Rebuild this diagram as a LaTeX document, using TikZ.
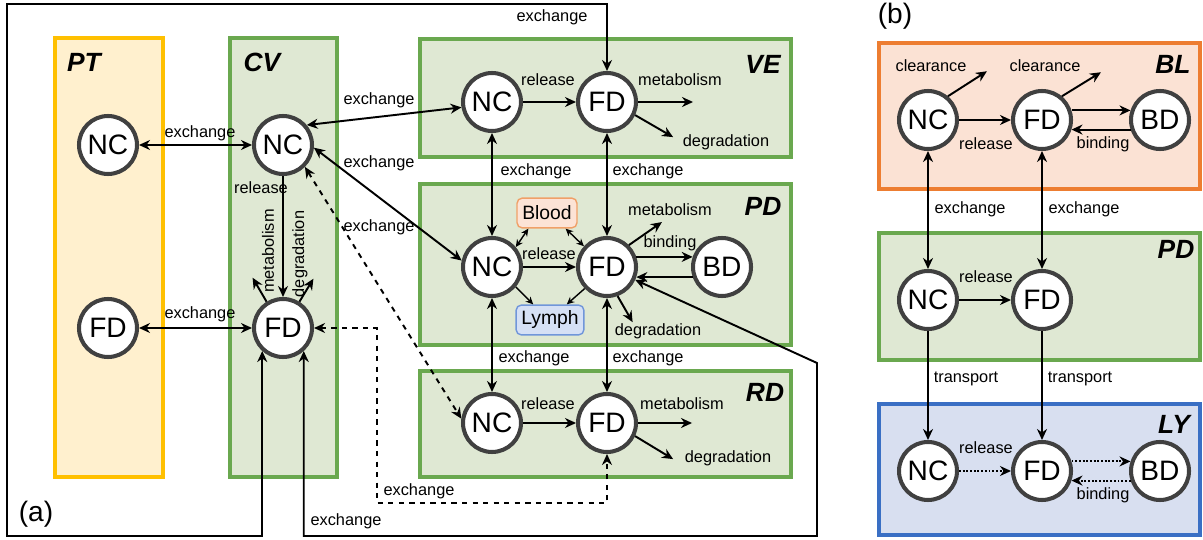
\documentclass[tikz,border=0pt]{standalone}
\usepackage{fontspec}
\setmainfont{Liberation Sans}
\usepackage{xcolor}
\definecolor{circleDark}{HTML}{404040}
\definecolor{ptFill}{HTML}{FFF0CE}
\definecolor{ptLine}{HTML}{FFC000}
\definecolor{tisFill}{HTML}{DFE8D3}
\definecolor{tisLine}{HTML}{6AA84F}
\definecolor{blFill}{HTML}{FBE2D4}
\definecolor{blLine}{HTML}{ED7D31}
\definecolor{lyFill}{HTML}{D8DFF0}
\definecolor{lyLine}{HTML}{3A6FC4}
\definecolor{bloodFill}{HTML}{FCE3D6}
\definecolor{bloodLine}{HTML}{F0A068}
\definecolor{lymphFill}{HTML}{D5E0F5}
\definecolor{lymphLine}{HTML}{7096DA}
\usetikzlibrary{positioning,arrows.meta}
\tikzset{%
  speciesNode/.style={%
    circle,
    draw=circleDark,
    line width=2.3pt,
    fill=white,
    minimum size=1.16cm,
    inner sep=0pt,
    font=\fontsize{16}{18}\selectfont
  },
  compBox/.style={%
    line width=2.4pt
  },
  compTitle/.style={%
    font=\fontsize{15}{17}\selectfont\bfseries\itshape
  },
  flowLabel/.style={%
    font=\fontsize{9.3}{11}\selectfont,
    inner sep=1pt
  },
  panelLabel/.style={%
    font=\fontsize{16}{18}\selectfont
  },
  fluidBox/.style={%
    rectangle,
    rounded corners=3pt,
    line width=0.8pt,
    minimum height=17pt,
    inner sep=3pt,
    font=\fontsize{11}{13}\selectfont
  },
  arrowLine/.style={%
    -{Stealth[length=2.2mm,width=2mm]},
    line width=1.1pt
  },
  arrowBoth/.style={%
    {Stealth[length=2.2mm,width=2mm]}-{Stealth[length=2.2mm,width=2mm]},
    line width=1.1pt
  },
  smallBoth/.style={%
    {Stealth[length=1.5mm,width=1.4mm]}-{Stealth[length=1.5mm,width=1.4mm]},
    line width=0.8pt
  },
  smallArrow/.style={%
    -{Stealth[length=1.5mm,width=1.4mm]},
    line width=0.8pt
  }
}

\begin{document}
\begin{tikzpicture}[x=0.02cm,y=-0.02cm]
  \useasboundingbox (0,0) rectangle (1203,540);

  % compartments of (a)
  \draw[compBox, draw=ptLine, fill=ptFill] (55,38) rectangle (163,477);
  \draw[compBox, draw=tisLine, fill=tisFill] (230,38) rectangle (337,477);
  \draw[compBox, draw=tisLine, fill=tisFill] (420,39) rectangle (791,157);
  \draw[compBox, draw=tisLine, fill=tisFill] (420,184) rectangle (791,345);
  \draw[compBox, draw=tisLine, fill=tisFill] (420,371) rectangle (791,477);

  % compartments of (b)
  \draw[compBox, draw=blLine, fill=blFill] (879,43) rectangle (1200,189);
  \draw[compBox, draw=tisLine, fill=tisFill] (879,233) rectangle (1200,360);
  \draw[compBox, draw=lyLine, fill=lyFill] (879,404) rectangle (1200,535);

  \node[compTitle] (ptTitle) at (84,62) {PT};
  \node[compTitle] (cvTitle) at (262,62) {CV};
  \node[compTitle] (veTitle) at (763,64) {VE};
  \node[compTitle] (pdTitle) at (763,206) {PD};
  \node[compTitle] (rdTitle) at (765,392) {RD};
  \node[compTitle] (blTitle) at (1173,64) {BL};
  \node[compTitle] (bpTitle) at (1176,249) {PD};
  \node[compTitle] (lyTitle) at (1174,424) {LY};

  \node[panelLabel] (panelA) at (36,514) {(a)};
  \node[panelLabel] (panelB) at (895,16) {(b)};

  % species of (a)
  \node[speciesNode] (ptNC) at (108,145) {NC};
  \node[speciesNode] (ptFD) at (108,328) {FD};
  \node[speciesNode] (cvNC) at (283,145) {NC};
  \node[speciesNode] (cvFD) at (283,328) {FD};
  \node[speciesNode] (veNC) at (492,102) {NC};
  \node[speciesNode] (veFD) at (607,102) {FD};
  \node[speciesNode] (pdNC) at (492,267) {NC};
  \node[speciesNode] (pdFD) at (607,267) {FD};
  \node[speciesNode] (pdBD) at (722,267) {BD};
  \node[speciesNode] (rdNC) at (492,423) {NC};
  \node[speciesNode] (rdFD) at (607,423) {FD};
  \node[fluidBox, draw=bloodLine, fill=bloodFill] (blood) at (547,213) {Blood};
  \node[fluidBox, draw=lymphLine, fill=lymphFill] (lymph) at (550,320) {Lymph};

  % species of (b)
  \node[speciesNode] (blNC) at (928,120) {NC};
  \node[speciesNode] (blFD) at (1042,120) {FD};
  \node[speciesNode] (blBD) at (1160,120) {BD};
  \node[speciesNode] (bpNC) at (928,300) {NC};
  \node[speciesNode] (bpFD) at (1042,300) {FD};
  \node[speciesNode] (lyNC) at (928,471) {NC};
  \node[speciesNode] (lyFD) at (1042,471) {FD};
  \node[speciesNode] (lyBD) at (1160,471) {BD};

  % exchanges with the central compartment
  \draw[arrowBoth] (ptNC) -- (cvNC);
  \draw[arrowBoth] (ptFD) -- (cvFD);
  \draw[arrowBoth] (cvNC.40) -- (veNC.190);
  \draw[arrowBoth] (cvNC.-5) -- (pdNC.168);
  \draw[arrowBoth, dashed] (cvNC.-45) -- (rdNC.172);
  \draw[arrowBoth] (cvFD.228) |- (7,536) -- (7,4) -| (veFD.north);
  \draw[arrowBoth] (cvFD.312) |- (817,536) -- (817,363) -- (pdFD);
  \draw[arrowBoth, dashed] (cvFD.east) -- (377,328) |- (607,503) -- (rdFD.south);

  \node[flowLabel] (exPtNc) at (200,133) {exchange};
  \node[flowLabel] (exPtFd) at (200,314) {exchange};
  \node[flowLabel] (exVeNc) at (379,100) {exchange};
  \node[flowLabel] (exPdNc) at (379,163) {exchange};
  \node[flowLabel] (exRdNc) at (379,227) {exchange};
  \node[flowLabel] (exVeFd) at (552,17) {exchange};
  \node[flowLabel] (exPdFd) at (346,521) {exchange};
  \node[flowLabel] (exRdFd) at (419,491) {exchange};

  % central compartment
  \draw[arrowLine] (cvNC) -- (cvFD);
  \draw[arrowLine] (cvFD.122) -- ++(-14,-24);
  \draw[arrowLine] (cvFD.58) -- ++(14,-23);
  \node[flowLabel] (cvRelease) at (261,188) {release};
  \node[flowLabel, rotate=90] (cvMetab) at (268,251) {metabolism};
  \node[flowLabel, rotate=90] (cvDegrad) at (300,254) {degradation};

  % VE
  \draw[arrowLine] (veNC) -- (veFD);
  \draw[arrowLine] (veFD.east) -- ++(55,0);
  \draw[arrowLine] (veFD.-25) -- ++(38,22);
  \node[flowLabel] (veRelease) at (548,80) {release};
  \node[flowLabel] (veMetab) at (680,80) {metabolism};
  \node[flowLabel] (veDegrad) at (726,142) {degradation};

  \draw[arrowBoth] (veNC) -- (pdNC);
  \draw[arrowBoth] (veFD) -- (pdFD);
  \node[flowLabel] (exVePdNc) at (536,171) {exchange};
  \node[flowLabel] (exVePdFd) at (648,171) {exchange};

  % PD
  \draw[arrowLine] (pdNC) -- (pdFD);
  \draw[arrowLine] (pdFD.19) -- (pdBD.161);
  \draw[arrowLine] (pdBD.199) -- (pdFD.-19);
  \draw[arrowLine] (pdFD.45) -- ++(33,-23);
  \draw[arrowLine] (pdFD.-70) -- ++(15,26);
  \draw[smallBoth] (pdNC.40) -- (blood.-140);
  \draw[smallBoth] (pdFD.138) -- (blood.-40);
  \draw[smallArrow] (pdNC.-40) -- (lymph.137);
  \draw[smallArrow] (pdFD.-136) -- (lymph.43);
  \node[flowLabel] (pdRelease) at (549,254) {release};
  \node[flowLabel] (pdMetab) at (670,210) {metabolism};
  \node[flowLabel] (pdBinding) at (670,243) {binding};
  \node[flowLabel] (pdDegrad) at (658,331) {degradation};

  \draw[arrowBoth] (pdNC) -- (rdNC);
  \draw[arrowBoth] (pdFD) -- (rdFD);
  \node[flowLabel] (exPdRdNc) at (534,358) {exchange};
  \node[flowLabel] (exPdRdFd) at (648,358) {exchange};

  % RD
  \draw[arrowLine] (rdNC) -- (rdFD);
  \draw[arrowLine] (rdFD.east) -- ++(54,0);
  \draw[arrowLine] (rdFD.-25) -- ++(38,23);
  \node[flowLabel] (rdRelease) at (548,404) {release};
  \node[flowLabel] (rdMetab) at (682,404) {metabolism};
  \node[flowLabel] (rdDegrad) at (728,458) {degradation};

  % BL
  \draw[arrowLine] (blNC) -- (blFD);
  \draw[arrowLine] (blFD.18) -- (blBD.162);
  \draw[arrowLine] (blBD.198) -- (blFD.-18);
  \draw[arrowLine] (blNC.50) -- ++(39,-25);
  \draw[arrowLine] (blFD.50) -- ++(39,-24);
  \node[flowLabel] (blClearNc) at (931,66) {clearance};
  \node[flowLabel] (blClearFd) at (1045,66) {clearance};
  \node[flowLabel] (blRelease) at (986,144) {release};
  \node[flowLabel] (blBinding) at (1103,144) {binding};

  \draw[arrowBoth] (blNC) -- (bpNC);
  \draw[arrowBoth] (blFD) -- (bpFD);
  \node[flowLabel] (exBlNc) at (970,209) {exchange};
  \node[flowLabel] (exBlFd) at (1084,209) {exchange};

  % PD of (b)
  \draw[arrowLine] (bpNC) -- (bpFD);
  \node[flowLabel] (bpRelease) at (986,277) {release};

  \draw[arrowLine] (bpNC) -- (lyNC);
  \draw[arrowLine] (bpFD) -- (lyFD);
  \node[flowLabel] (trNc) at (966,379) {transport};
  \node[flowLabel] (trFd) at (1080,379) {transport};

  % LY
  \draw[arrowLine, densely dotted] (lyNC) -- (lyFD);
  \draw[arrowLine, densely dotted] (lyFD.18) -- (lyBD.162);
  \draw[arrowLine, densely dotted] (lyBD.198) -- (lyFD.-18);
  \node[flowLabel] (lyRelease) at (986,448) {release};
  \node[flowLabel] (lyBinding) at (1103,495) {binding};
\end{tikzpicture}
\end{document}
